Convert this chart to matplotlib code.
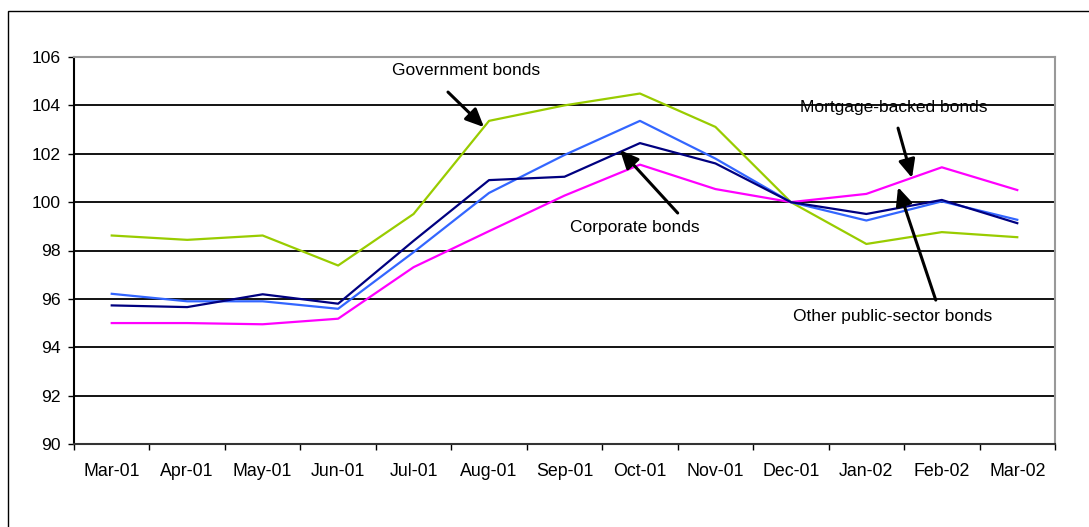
import matplotlib
matplotlib.use("Agg")
import matplotlib.pyplot as plt
from matplotlib.patches import Rectangle
from matplotlib.ticker import FixedLocator, NullFormatter

plt.rcParams['font.family'] = ['Liberation Sans', 'DejaVu Sans']

months = ["Mar-01", "Apr-01", "May-01", "Jun-01", "Jul-01", "Aug-01", "Sep-01",
          "Oct-01", "Nov-01", "Dec-01", "Jan-02", "Feb-02", "Mar-02"]
government = [98.62, 98.44, 98.62, 97.38, 99.51, 103.36, 104.0, 104.49, 103.11, 100.0, 98.27, 98.76, 98.55]
corporate = [95.73, 95.66, 96.19, 95.80, 98.4, 100.91, 101.05, 102.44, 101.6, 100.0, 99.51, 100.09, 99.13]
other_public = [96.21, 95.9, 95.9, 95.59, 97.93, 100.38, 101.95, 103.36, 101.8, 100.0, 99.24, 100.03, 99.27]
mortgage = [95.0, 95.0, 94.95, 95.18, 97.31, 98.8, 100.27, 101.55, 100.54, 100.0, 100.34, 101.44, 100.5]
yticks = [90, 92, 94, 96, 98, 100, 102, 104, 106]

W, H = 1089, 527
fig = plt.figure(figsize=(W / 100, H / 100), dpi=100)
fig.patch.set_facecolor('white')

# outer chart border
fig.patches.append(Rectangle((8 / W, -0.1), 1.2, (527 - 11) / H + 0.1, transform=fig.transFigure,
                             fill=False, edgecolor='black', linewidth=1.0, zorder=0))

ax = fig.add_axes([74 / W, (H - 444) / H, 981 / W, 387 / H])
x = list(range(len(months)))

ax.set_ylim(90, 106)
ax.set_xlim(-0.5, len(months) - 0.5)

for v in yticks[1:-1]:
    ax.axhline(v, color='black', linewidth=1.3, zorder=1)

ax.plot(x, government, color='#99CC00', linewidth=1.6, zorder=3)
ax.plot(x, other_public, color='#3366FF', linewidth=1.6, zorder=3)
ax.plot(x, corporate, color='#000080', linewidth=1.6, zorder=4)
ax.plot(x, mortgage, color='#FF00FF', linewidth=1.6, zorder=3)

ax.set_yticks(yticks)
ax.tick_params(axis='y', length=4.3, width=1, pad=5, labelsize=12.6, colors='black')

ax.xaxis.set_major_locator(FixedLocator([i - 0.5 for i in range(len(months) + 1)]))
ax.xaxis.set_major_formatter(NullFormatter())
ax.xaxis.set_minor_locator(FixedLocator(x))
ax.set_xticklabels(months, minor=True)
ax.tick_params(axis='x', which='major', length=4.3, width=1, color='black')
ax.tick_params(axis='x', which='minor', length=0, pad=14, labelsize=12.8)

ax.spines['left'].set_color('black')
ax.spines['bottom'].set_color('#333333')
ax.spines['top'].set_color('#999999')
ax.spines['right'].set_color('#999999')
for s in ax.spines.values():
    s.set_linewidth(1.5)

arrowprops = dict(arrowstyle='-|>,head_length=0.55,head_width=0.25', color='black', lw=2.2,
                  mutation_scale=20, shrinkA=0, shrinkB=0)

labels = [
    ("Government bonds", (4.695, 105.45), (4.456, 104.55), (4.933, 103.10)),
    ("Corporate bonds", (6.934, 98.97), (7.50, 99.55), (6.736, 102.15)),
    ("Mortgage-backed bonds", (10.367, 103.93), (10.42, 103.06), (10.605, 101.0)),
    ("Other public-sector bonds", (10.353, 95.29), (10.92, 95.95), (10.42, 100.62)),
]
for txt, tpos, tail, head in labels:
    ax.text(tpos[0], tpos[1], txt, ha='center', va='center', fontsize=12.5, zorder=6)
    ax.annotate("", xy=head, xytext=tail, arrowprops=arrowprops, zorder=7)

fig.savefig("out.png", dpi=100, facecolor='white')
